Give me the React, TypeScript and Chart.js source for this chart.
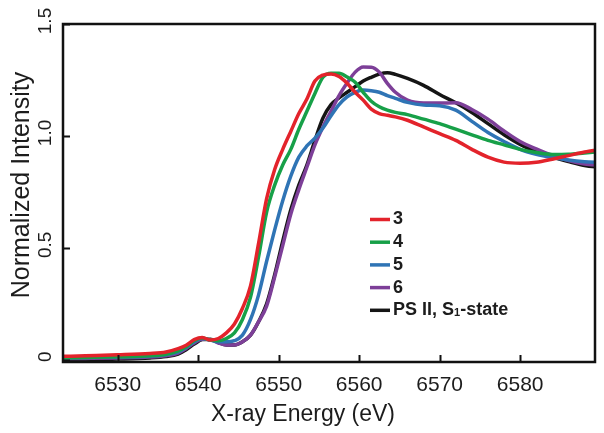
import React, { useEffect, useRef } from 'react';
import { Chart, registerables } from 'chart.js';

Chart.register(...registerables);

const energies = [
  6523, 6526, 6530, 6534, 6536, 6537.5, 6538.5, 6539.5, 6540.5, 6541.5, 6542.5, 6543.5,
  6544.5, 6545.5, 6546.5, 6547.5, 6548.5, 6549.5, 6550.5, 6551.5, 6552.5, 6553.5, 6554.5,
  6555.5, 6556.5, 6557.5, 6558.5, 6559.5, 6560.5, 6561.5, 6562.5, 6563.5, 6564.5, 6566,
  6568, 6570, 6572, 6574, 6576, 6578, 6580, 6582, 6584, 6586, 6588, 6590,
];

const series3 = [
  0.015, 0.018, 0.022, 0.028, 0.035, 0.05, 0.065, 0.09, 0.1, 0.088, 0.095, 0.12,
  0.16, 0.23, 0.33, 0.52, 0.72, 0.85, 0.94, 1.02, 1.1, 1.165, 1.245,
  1.272, 1.277, 1.265, 1.235, 1.195, 1.16, 1.12, 1.1, 1.092, 1.085, 1.07,
  1.04, 1.01, 0.98, 0.94, 0.905, 0.883, 0.878, 0.882, 0.896, 0.912, 0.928, 0.94,
];

const series4 = [
  0.008, 0.01, 0.013, 0.018, 0.025, 0.04, 0.058, 0.085, 0.097, 0.088, 0.085, 0.095,
  0.12, 0.18, 0.28, 0.46, 0.66, 0.78, 0.87, 0.94, 1.03, 1.11, 1.19,
  1.262, 1.28, 1.28, 1.263, 1.24, 1.195, 1.155, 1.13, 1.115, 1.105, 1.095,
  1.075, 1.055, 1.03, 1.005, 0.98, 0.96, 0.94, 0.926, 0.917, 0.918, 0.924, 0.93,
];

const series5 = [
  0.008, 0.01, 0.012, 0.016, 0.022, 0.035, 0.055, 0.08, 0.095, 0.088, 0.08, 0.08,
  0.085, 0.11, 0.18, 0.29, 0.44, 0.58, 0.71, 0.82, 0.905, 0.955, 0.99,
  1.035, 1.09, 1.14, 1.175, 1.195, 1.205, 1.202, 1.195, 1.18, 1.168, 1.15,
  1.138, 1.135, 1.115, 1.065, 1.015, 0.975, 0.94, 0.918, 0.903, 0.892, 0.885, 0.882,
];

const series6 = [
  0.005, 0.006, 0.008, 0.012, 0.018, 0.03, 0.05, 0.075, 0.092, 0.09, 0.075, 0.066,
  0.066, 0.08, 0.11, 0.17, 0.24, 0.37, 0.51, 0.65, 0.76, 0.86, 0.96,
  1.04, 1.11, 1.18, 1.236, 1.285, 1.308, 1.307, 1.285, 1.235, 1.195, 1.16,
  1.147, 1.147, 1.148, 1.118, 1.075, 1.022, 0.975, 0.942, 0.913, 0.89, 0.875, 0.868,
];

const seriesPS2 = [
  0.0, 0.0, 0.003, 0.008, 0.014, 0.025, 0.045, 0.07, 0.09, 0.092, 0.078, 0.066,
  0.066, 0.08, 0.11, 0.17, 0.25, 0.38, 0.53, 0.67, 0.78, 0.87, 0.98,
  1.08, 1.14, 1.17, 1.195, 1.22, 1.245, 1.262, 1.276, 1.282, 1.275, 1.257,
  1.226, 1.185, 1.148, 1.105, 1.055, 1.005, 0.962, 0.93, 0.905, 0.885, 0.868, 0.86,
];

const seriesLabels = ['3', '4', '5', '6', 'PS II, S\u2081-state'];
const seriesColors = ['#e3232b', '#17a048', '#2f74b5', '#7d3f98', '#151515'];
const seriesValues = [series3, series4, series5, series6, seriesPS2];

const xTicks = [6530, 6540, 6550, 6560, 6570, 6580];
const yTicks = [0, 0.5, 1.0, 1.5];
const xMin = 6523.2;
const xMax = 6589.3;
const yMin = -0.01;
const yMax = 1.5;

const xTitle = 'X-ray Energy (eV)';
const yTitle = 'Normalized Intensity';

const FONT = '"Liberation Sans", Arial, sans-serif';
const TEXT = '#1c1c1c';

const framePlugin = {
  id: 'frameTicks',
  afterDatasetsDraw(chart: any) {
    const { ctx, chartArea } = chart;
    const { left, right, top, bottom } = chartArea;
    const xs = chart.scales.x;
    const ys = chart.scales.y;
    ctx.save();
    ctx.strokeStyle = '#111';
    ctx.lineWidth = 2;
    ctx.beginPath();
    xTicks.forEach((v) => {
      const px = Math.round(xs.getPixelForValue(v)) + 0.5;
      ctx.moveTo(px, bottom);
      ctx.lineTo(px, bottom - 7);
    });
    yTicks.forEach((v) => {
      const py = Math.round(ys.getPixelForValue(v)) + 0.5;
      ctx.moveTo(left, py);
      ctx.lineTo(left + 7, py);
    });
    ctx.stroke();
    ctx.lineWidth = 2.5;
    ctx.strokeRect(left, top, right - left, bottom - top);
    ctx.restore();
  },
};

const titlePlugin = {
  id: 'axisTitles',
  afterDraw(chart: any) {
    const { ctx, chartArea } = chart;
    ctx.save();
    ctx.fillStyle = TEXT;
    ctx.textBaseline = 'alphabetic';
    ctx.textAlign = 'center';
    ctx.font = `23px ${FONT}`;
    const xCenter = (chartArea.left + chartArea.right) / 2 - 26;
    ctx.fillText(xTitle, xCenter, chartArea.bottom + 58.5);
    ctx.translate(29, (chartArea.top + chartArea.bottom) / 2 - 8);
    ctx.rotate(-Math.PI / 2);
    ctx.font = `25px ${FONT}`;
    ctx.fillText(yTitle, 0, 0);
    ctx.restore();
  },
};

const subMap: Record<string, string> = { '\u2081': '1', '\u2082': '2' };

const legendPlugin = {
  id: 'innerLegend',
  afterDraw(chart: any) {
    const { ctx, chartArea } = chart;
    const x0 = chartArea.left + 307;
    const y0 = chartArea.top + 195.5;
    const step = 22.7;
    ctx.save();
    chart.data.datasets.forEach((ds: any, i: number) => {
      const y = y0 + i * step;
      ctx.strokeStyle = ds.borderColor;
      ctx.lineWidth = 3.5;
      ctx.beginPath();
      ctx.moveTo(x0, y);
      ctx.lineTo(x0 + 20, y);
      ctx.stroke();
      ctx.fillStyle = TEXT;
      ctx.textBaseline = 'middle';
      ctx.textAlign = 'left';
      let tx = x0 + 23;
      for (const ch of ds.label as string) {
        if (subMap[ch]) {
          ctx.font = `bold 11px ${FONT}`;
          ctx.fillText(subMap[ch], tx, y + 3);
          tx += ctx.measureText(subMap[ch]).width;
        } else {
          ctx.font = `bold 18px ${FONT}`;
          ctx.fillText(ch, tx, y);
          tx += ctx.measureText(ch).width;
        }
      }
    });
    ctx.restore();
  },
};

export default function App() {
  const canvasRef = useRef<HTMLCanvasElement | null>(null);

  useEffect(() => {
    document.body.style.margin = '0';
    const canvas = canvasRef.current;
    if (!canvas) return;
    const chart = new Chart(canvas, {
      type: 'line',
      data: {
        datasets: seriesValues.map((vals, i) => ({
          label: seriesLabels[i],
          data: energies.map((e, j) => ({ x: e, y: vals[j] })),
          borderColor: seriesColors[i],
          backgroundColor: seriesColors[i],
          borderWidth: 3.5,
          pointRadius: 0,
          tension: 0.4,
          cubicInterpolationMode: 'monotone' as const,
          fill: false,
        })),
      },
      options: {
        animation: false,
        responsive: true,
        maintainAspectRatio: false,
        layout: { padding: { left: 0, right: 9, top: 24, bottom: 0 } },
        plugins: {
          legend: { display: false },
          tooltip: { enabled: false },
        },
        scales: {
          x: {
            type: 'linear',
            min: xMin,
            max: xMax,
            grid: { display: false, drawTicks: false },
            border: { display: false },
            afterBuildTicks: (scale: any) => {
              scale.ticks = xTicks.map((v) => ({ value: v }));
            },
            afterFit: (scale: any) => {
              scale.height = 71;
            },
            ticks: {
              autoSkip: false,
              maxRotation: 0,
              minRotation: 0,
              padding: 11,
              color: TEXT,
              font: { family: FONT, size: 21 },
              callback: (v: any) => String(v),
            },
          },
          y: {
            type: 'linear',
            min: yMin,
            max: yMax,
            grid: { display: false, drawTicks: false },
            border: { display: false },
            afterBuildTicks: (scale: any) => {
              scale.ticks = yTicks.map((v) => ({ value: v }));
            },
            afterFit: (scale: any) => {
              scale.width = 63;
            },
            ticks: {
              autoSkip: false,
              minRotation: 90,
              maxRotation: 90,
              crossAlign: 'center',
              padding: 4,
              labelOffset: -3,
              color: TEXT,
              font: { family: FONT, size: 19 },
              callback: (v: any) => (Number(v) === 0 ? '0' : Number(v).toFixed(1)),
            },
          },
        },
      },
      plugins: [framePlugin, titlePlugin, legendPlugin],
    });
    return () => chart.destroy();
  }, []);

  return (
    <div style={{ width: 604, height: 433, position: 'relative' }}>
      <canvas ref={canvasRef} />
    </div>
  );
}
